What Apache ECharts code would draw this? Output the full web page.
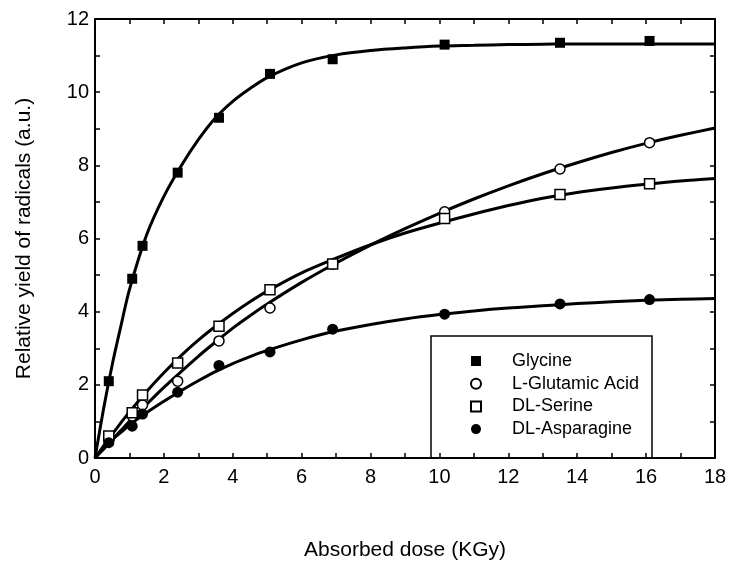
<!DOCTYPE html>
<html>
<head>
<meta charset="utf-8">
<script src="https://cdn.jsdelivr.net/npm/echarts@6/dist/echarts.min.js"></script>
<style>
  html, body { margin: 0; padding: 0; background: #fff; }
  #chart { width: 732px; height: 566px; }
</style>
</head>
<body>
<div id="chart"></div>
<script>
// Measured doses (kGy) for every sample
const doses = [0.4, 1.08, 1.38, 2.4, 3.6, 5.08, 6.9, 10.15, 13.5, 16.1];

// Measured relative radical yields
const glycine    = [2.1, 4.9, 5.8, 7.8, 9.3, 10.5, 10.9, 11.3, 11.35, 11.4];
const glutamic   = [0.5, 1.15, 1.45, 2.1, 3.2, 4.1, 5.3, 6.73, 7.9, 8.62];
const serine     = [0.6, 1.24, 1.72, 2.6, 3.6, 4.6, 5.3, 6.55, 7.2, 7.5];
const asparagine = [0.42, 0.87, 1.2, 1.8, 2.53, 2.9, 3.52, 3.93, 4.21, 4.33];

// Fitted saturation curves, sampled on a common dose grid
const fitDoses = [0, 0.25, 0.5, 0.75, 1, 1.5, 2, 2.5, 3, 3.5, 4, 4.5, 5, 6, 7, 8, 9, 10, 11, 12, 13, 14, 15, 16, 17, 18];
const glycineFit    = [0, 1.35, 2.55, 3.6, 4.6, 6.1, 7.15, 7.98, 8.7, 9.3, 9.75, 10.1, 10.4, 10.8, 11.02, 11.14, 11.21, 11.26, 11.28, 11.3, 11.31, 11.32, 11.32, 11.32, 11.32, 11.32];
const glutamicFit   = [0, 0.25, 0.5, 0.75, 1.0, 1.47, 1.93, 2.36, 2.78, 3.17, 3.55, 3.89, 4.21, 4.8, 5.33, 5.82, 6.27, 6.69, 7.08, 7.44, 7.77, 8.07, 8.35, 8.6, 8.82, 9.02];
const serineFit     = [0, 0.33, 0.65, 0.96, 1.26, 1.82, 2.33, 2.8, 3.22, 3.6, 3.95, 4.27, 4.56, 5.06, 5.46, 5.83, 6.15, 6.42, 6.67, 6.9, 7.1, 7.26, 7.38, 7.48, 7.57, 7.64];
const asparagineFit = [0, 0.25, 0.5, 0.7, 0.9, 1.24, 1.55, 1.84, 2.11, 2.36, 2.58, 2.77, 2.94, 3.23, 3.47, 3.65, 3.8, 3.92, 4.02, 4.1, 4.16, 4.22, 4.27, 4.31, 4.34, 4.36];

const names = ['Glycine', 'L-Glutamic Acid', 'DL-Serine', 'DL-Asparagine'];

const FONT = '"Liberation Sans", Arial, sans-serif';

function pairs(xs, ys) { return xs.map((x, i) => [x, ys[i]]); }

function fitLine(ys) {
  return {
    type: 'line',
    data: pairs(fitDoses, ys),
    smooth: 0.3,
    showSymbol: false,
    symbol: 'none',
    lineStyle: { color: '#000', width: 3 },
    silent: true,
    z: 2
  };
}

function points(name, ys, symbol, filled, size) {
  return {
    type: 'scatter',
    name: name,
    data: pairs(doses, ys),
    symbol: symbol,
    symbolSize: size,
    itemStyle: filled
      ? { color: '#000', borderColor: '#000', borderWidth: 0, opacity: 1 }
      : { color: '#fff', borderColor: '#000', borderWidth: 1.5, opacity: 1 },
    z: 5
  };
}

const evenOnly = v => (Math.round(v) % 2 === 0 ? String(Math.round(v)) : '');

// Fresh axis settings for each of the four frame sides (ticks point into the plot)
function frameAxis(extra) {
  return Object.assign({
    type: 'value',
    interval: 1,
    axisLine: { show: true, onZero: false, lineStyle: { color: '#000', width: 2 } },
    axisTick: { show: true, inside: true, length: 5, lineStyle: { color: '#000', width: 1.5 } },
    splitLine: { show: false }
  }, extra);
}

const chart = echarts.init(document.getElementById('chart'), null, { renderer: 'canvas' });

chart.setOption({
  backgroundColor: '#fff',
  animation: false,
  grid: { left: 95, right: 17, top: 19, bottom: 108, containLabel: false },
  xAxis: [
    frameAxis({
      min: 0, max: 18, position: 'bottom',
      name: 'Absorbed dose (KGy)',
      nameLocation: 'middle',
      nameGap: 82,
      nameTextStyle: { fontFamily: FONT, fontSize: 21, color: '#000' },
      axisLabel: { formatter: evenOnly, fontFamily: FONT, fontSize: 20, color: '#000', margin: 9 }
    }),
    frameAxis({
      min: 0, max: 18, position: 'top',
      axisLabel: { show: false }
    })
  ],
  yAxis: [
    frameAxis({
      min: 0, max: 12, position: 'left',
      name: 'Relative yield of radicals (a.u.)',
      nameLocation: 'middle',
      nameGap: 60,
      nameTextStyle: { fontFamily: FONT, fontSize: 21, color: '#000' },
      axisLabel: { formatter: evenOnly, fontFamily: FONT, fontSize: 20, color: '#000', margin: 6 }
    }),
    frameAxis({
      min: 0, max: 12, position: 'right',
      axisLabel: { show: false }
    })
  ],
  legend: {
    data: names,
    orient: 'vertical',
    left: 470,
    top: 352,
    itemWidth: 10,
    itemHeight: 10,
    itemGap: 4.7,
    padding: 0,
    textStyle: { fontFamily: FONT, fontSize: 18, color: '#000', lineHeight: 18, padding: [0, 0, 0, 26] },
    selectedMode: false
  },
  graphic: [{
    type: 'rect',
    shape: { x: 431, y: 336, width: 221, height: 122 },
    style: { fill: 'none', stroke: '#000', lineWidth: 1.5 },
    z: 10
  }],
  series: [
    fitLine(glycineFit),
    fitLine(glutamicFit),
    fitLine(serineFit),
    fitLine(asparagineFit),
    points(names[0], glycine, 'rect', true, 10),
    points(names[1], glutamic, 'circle', false, 10),
    points(names[2], serine, 'rect', false, 10),
    points(names[3], asparagine, 'circle', true, 11)
  ]
});
</script>
</body>
</html>
